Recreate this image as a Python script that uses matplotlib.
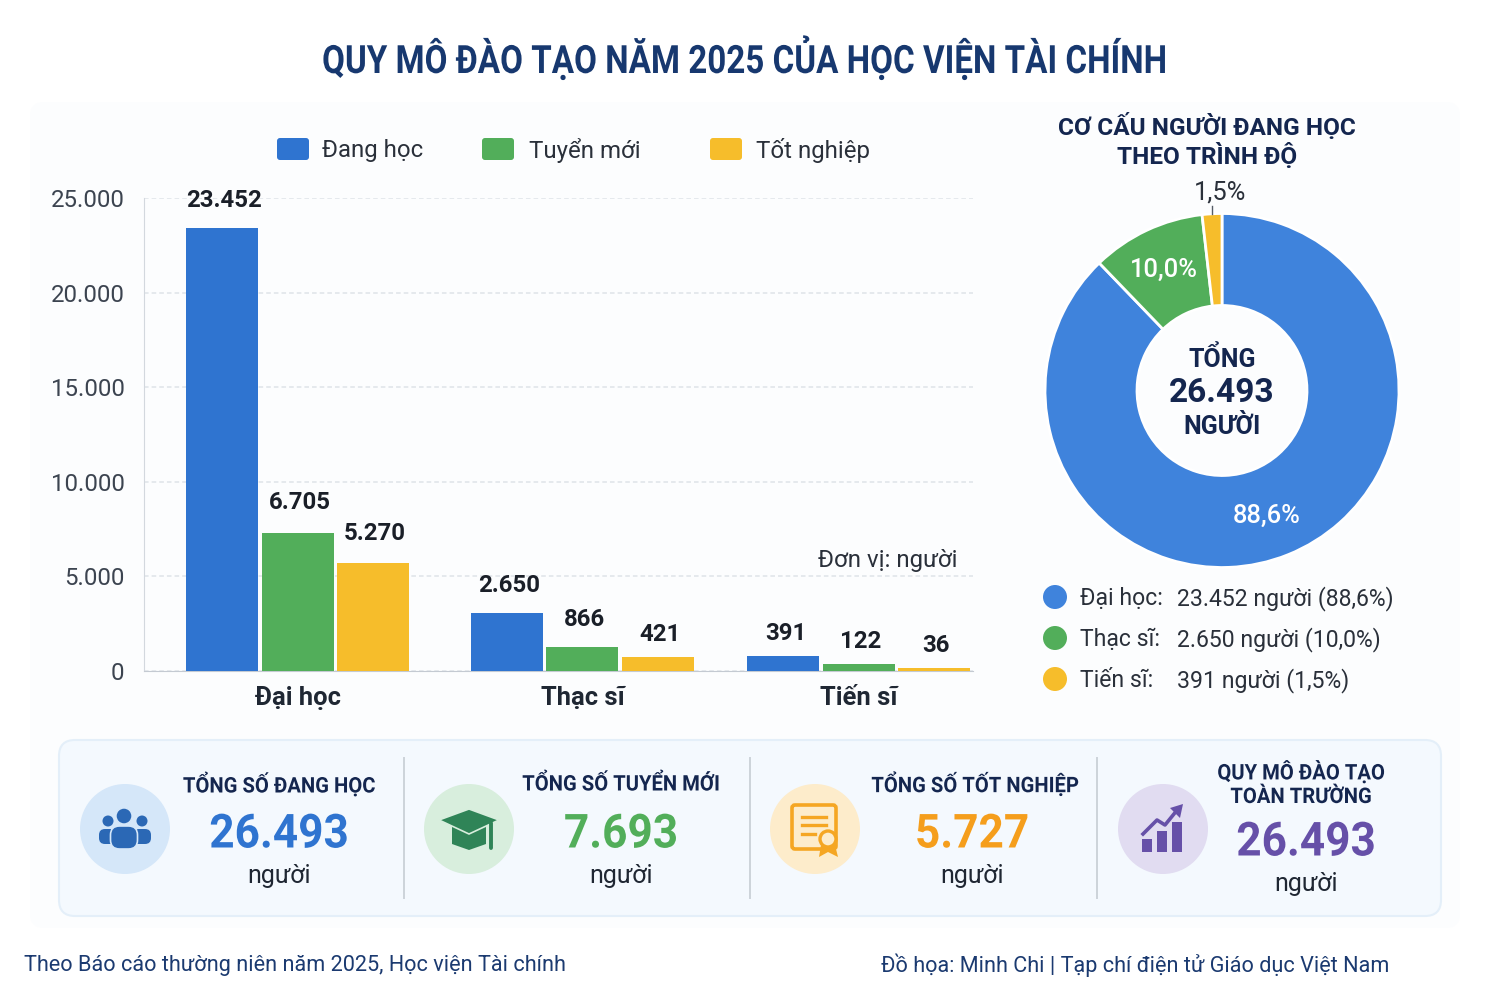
import matplotlib
matplotlib.use("Agg")
import matplotlib.pyplot as plt
from matplotlib.patches import Circle, FancyBboxPatch, Polygon, Rectangle
from matplotlib.patheffects import AbstractPathEffect
from matplotlib.transforms import Affine2D

plt.rcParams['font.family'] = ['Roboto', 'DejaVu Sans']

# data
levels = ["Đại học", "Thạc sĩ", "Tiến sĩ"]
series_names = ["Đang học", "Tuyển mới", "Tốt nghiệp"]
# printed numbers
dang_hoc_labels = ["23.452", "2.650", "391"]
tuyen_moi_labels = ["6.705", "866", "122"]
tot_nghiep_labels = ["5.270", "421", "36"]
# bar heights as drawn in the picture (the source does not draw them quite to scale)
dang_hoc = [23420, 3070, 800]
tuyen_moi = [7290, 1270, 370]
tot_nghiep = [5700, 740, 160]
yticks = [0, 5000, 10000, 15000, 20000, 25000]
ytick_labels = ["0", "5.000", "10.000", "15.000", "20.000", "25.000"]

# donut shares as drawn
donut_shares = [87.8, 10.4, 1.8]
donut_labels = ["88,6%", "10,0%", "1,5%"]
donut_legend = ["23.452 người (88,6%)", "2.650 người (10,0%)", "391 người (1,5%)"]

stat_titles = [["TỔNG SỐ ĐANG HỌC"], ["TỔNG SỐ TUYỂN MỚI"], ["TỔNG SỐ TỐT NGHIỆP"],
               ["QUY MÔ ĐÀO TẠO", "TOÀN TRƯỜNG"]]
stat_values = ["26.493", "7.693", "5.727", "26.493"]

BLUE = "#3f83dc"
BAR_BLUE = "#2f74d0"
GREEN = "#52ae5a"
YELLOW = "#f6bd2b"
NAVY = "#14264f"
DARK = "#1f2733"
BAR_COLORS = [BAR_BLUE, GREEN, YELLOW]


def px(size):
    # font size given in pixels
    return size * 0.72


class Squeeze(AbstractPathEffect):
    # narrows a text around x (display pixels), no condensed face is installed
    def __init__(self, x, factor):
        super().__init__()
        self.x = x
        self.factor = factor

    def draw_path(self, renderer, gc, tpath, affine, rgbFace=None):
        narrow = Affine2D().translate(-self.x, 0).scale(self.factor, 1).translate(self.x, 0)
        renderer.draw_path(gc, tpath, affine + narrow, rgbFace)


fig = plt.figure(figsize=(15, 10), dpi=100, facecolor="white")

# overlay in pixel coordinates for everything around the charts
bg = fig.add_axes([0, 0, 1, 1], zorder=0)
bg.set_xlim(0, 1500)
bg.set_ylim(1000, 0)
bg.axis("off")
top = fig.add_axes([0, 0, 1, 1], zorder=5)
top.set_xlim(0, 1500)
top.set_ylim(1000, 0)
top.axis("off")
top.patch.set_alpha(0)


def txt(x, y, s, size, color=DARK, weight="normal", ha="center", squeeze=None):
    t = top.text(x, y + 1.5, s, fontsize=px(size), color=color, fontweight=weight, ha=ha, va="center")
    if squeeze:
        t.set_path_effects([Squeeze(x, squeeze)])
    return t


bg.add_patch(FancyBboxPatch((30, 102), 1430, 826, boxstyle="round,pad=0,rounding_size=14",
                            fc="#fcfdfe", ec="none"))

txt(745, 57, "QUY MÔ ĐÀO TẠO NĂM 2025 CỦA HỌC VIỆN TÀI CHÍNH", 39, "#17386f", "bold", squeeze=0.85)

# bar chart
ax = fig.add_axes([144 / 1500, 1 - 671 / 1000, (973 - 144) / 1500, (671 - 198) / 1000], zorder=2)
ax.patch.set_alpha(0)
ax.set_xlim(144, 973)
ax.set_ylim(0, 25000)
group_x = [297.5, 582.5, 859]
offsets = [-75.5, 0, 75.5]
all_vals = [dang_hoc, tuyen_moi, tot_nghiep]
all_labels = [dang_hoc_labels, tuyen_moi_labels, tot_nghiep_labels]
label_pad = [[20, 20, 16], [22, 20, 16], [21, 16, 16]]
for s in range(3):
    xs = [g + offsets[s] for g in group_x]
    bars = ax.bar(xs, all_vals[s], width=72, color=BAR_COLORS[s], zorder=3)
    for i, b in enumerate(bars):
        ax.annotate(all_labels[s][i], (b.get_x() + b.get_width() / 2 + 2, b.get_height()),
                    xytext=(0, label_pad[s][i]), textcoords="offset points", ha="center", va="center",
                    fontsize=px(24), fontweight="bold", color="#1a1f28", zorder=4)
ax.set_yticks(yticks)
ax.set_yticklabels(ytick_labels, fontsize=px(24), color="#3c4450")
ax.set_xticks(group_x)
ax.set_xticklabels(levels, fontsize=px(25.5), fontweight="bold", color="#1f2733")
ax.tick_params(axis="both", length=0)
ax.tick_params(axis="y", pad=14)
ax.tick_params(axis="x", pad=11)
ax.grid(axis="y", linestyle=(0, (3, 2)), color="#dfe3e8", linewidth=1.1, zorder=0)
ax.set_axisbelow(True)
for side in ["top", "right"]:
    ax.spines[side].set_visible(False)
ax.spines["left"].set_color("#d3d8de")
ax.spines["bottom"].set_color("#c4cad2")

txt(958, 559, "Đơn vị: người", 24, "#2a303a", ha="right")

# legend of the bar chart
for name, color, sx, tx in zip(series_names, BAR_COLORS, [277, 482, 710], [322, 529, 756]):
    top.add_patch(FancyBboxPatch((sx, 138), 32, 22, boxstyle="round,pad=0,rounding_size=3", fc=color, ec="none"))
    txt(tx, 149, name, 24, "#2a303a", ha="left")

# donut
R = 177
dax = fig.add_axes([(1222 - R) / 1500, 1 - (390.5 + R) / 1000, 2 * R / 1500, 2 * R / 1000], zorder=2)
dax.pie(donut_shares, colors=[BLUE, GREEN, YELLOW], startangle=90, counterclock=False, radius=1,
        wedgeprops=dict(width=1 - 85 / R, edgecolor="white", linewidth=2))
dax.set_xlim(-1, 1)
dax.set_ylim(-1, 1)

txt(1207, 125, "CƠ CẤU NGƯỜI ĐANG HỌC", 24.4, NAVY, "bold")
txt(1207, 155, "THEO TRÌNH ĐỘ", 24.4, NAVY, "bold")
txt(1267, 514, donut_labels[0], 25.5, "white", "medium")
txt(1164, 268, donut_labels[1], 25.5, "white", "medium")
txt(1220, 191, donut_labels[2], 25.5, "#2a303a")
top.plot([1212, 1212], [206, 214], color="#555c66", lw=1)
txt(1222, 358, "TỔNG", 25, NAVY, "bold")
txt(1222, 392, "26.493", 33.5, NAVY, "bold")
txt(1222, 425, "NGƯỜI", 25, NAVY, "bold")

for lv, line, c, y in zip(levels, donut_legend, [BLUE, GREEN, YELLOW], [597, 638, 679]):
    top.add_patch(Circle((1055, y), 12, fc=c, ec="none"))
    txt(1080, y, lv + ":", 23, "#2a303a", ha="left")
    txt(1177, y, line, 23, "#2a303a", ha="left")

# stat card
top.add_patch(FancyBboxPatch((59, 740), 1382, 176, boxstyle="round,pad=0,rounding_size=16",
                             fc="#f4f9fe", ec="#e4eff9", lw=1.5, zorder=0))
for x in [404, 750, 1097]:
    top.plot([x, x], [758, 898], color="#ccd3da", lw=1.4)

circle_x = [125, 469, 815, 1163]
circle_c = ["#d5e7f9", "#d8eedd", "#fdeccb", "#e1dcf1"]
value_c = [BAR_BLUE, GREEN, "#f59e1c", "#6650a8"]
title_x = [279, 621, 975, 1301]
value_x = [279, 621, 972, 1306]
value_y = [833, 833, 833, 841]
unit_y = [875, 875, 875, 883]
for i in range(4):
    top.add_patch(Circle((circle_x[i], 829), 45, fc=circle_c[i], ec="none"))
    t = stat_titles[i]
    if len(t) == 1:
        txt(title_x[i], 783, t[0], 21.5, NAVY, "bold", squeeze=0.94)
    else:
        txt(title_x[i], 771, t[0], 21.5, NAVY, "bold", squeeze=0.94)
        txt(title_x[i], 796, t[1], 21.5, NAVY, "bold", squeeze=0.94)
    txt(value_x[i], value_y[i], stat_values[i], 47, value_c[i], "bold", squeeze=0.94)
    txt(value_x[i], unit_y[i], "người", 25, DARK)

# icons, drawn by hand
P = "#2b68b5"
top.add_patch(Circle((108, 821), 5.5, fc=P, ec="none"))
top.add_patch(Circle((142, 821), 5.5, fc=P, ec="none"))
top.add_patch(FancyBboxPatch((99, 829), 18, 15, boxstyle="round,pad=0,rounding_size=6", fc=P, ec="none"))
top.add_patch(FancyBboxPatch((133, 829), 18, 15, boxstyle="round,pad=0,rounding_size=6", fc=P, ec="none"))
top.add_patch(FancyBboxPatch((110.5, 826), 27, 23, boxstyle="round,pad=0,rounding_size=9", fc=P, ec="#d5e7f9", lw=1.2))
top.add_patch(Circle((124, 816), 8, fc=P, ec="#d5e7f9", lw=1))

G = "#2f8457"
top.add_patch(Polygon([(452, 826), (486, 826), (486, 844), (469, 850), (452, 844)], fc=G, ec="none"))
top.add_patch(Polygon([(439, 820), (469, 809), (499, 820), (469, 834)], fc=G, ec="#d8eedd", lw=1.2))
top.plot([491, 491], [823, 848], color=G, lw=2.8, solid_capstyle="round")

O = "#f5a623"
top.add_patch(FancyBboxPatch((792, 805), 44, 44, boxstyle="round,pad=0,rounding_size=3", fc="none", ec=O, lw=2.6))
for x0, x1, y in [(802, 826, 817), (802, 826, 825), (802, 815, 834)]:
    top.plot([x0, x1], [y, y], color=O, lw=2.4)
top.add_patch(Polygon([(821, 845), (835, 845), (838, 857), (828, 852), (819, 857)], fc=O, ec="none"))
top.add_patch(Circle((828, 839), 8, fc="#fdeccb", ec=O, lw=2.4))

V = "#6650a8"
for x, ytop in zip([1142, 1157, 1172], [839, 831, 822]):
    top.add_patch(Rectangle((x, ytop), 10, 852 - ytop, fc=V, ec="none"))
top.plot([1143, 1157, 1165, 1178], [834, 820, 825, 809], color=V, lw=2.6)
top.add_patch(Polygon([(1183, 804), (1180, 818), (1170, 808)], fc=V, ec="none"))

# footer
txt(24, 964, "Theo Báo cáo thường niên năm 2025, Học viện Tài chính", 21.6, "#1b3a70", ha="left")
txt(881, 964, "Đồ họa: Minh Chi | Tạp chí điện tử Giáo dục Việt Nam", 21.6, "#1b3a70", ha="left")

fig.savefig("out.png", dpi=100)
plt.close(fig)
